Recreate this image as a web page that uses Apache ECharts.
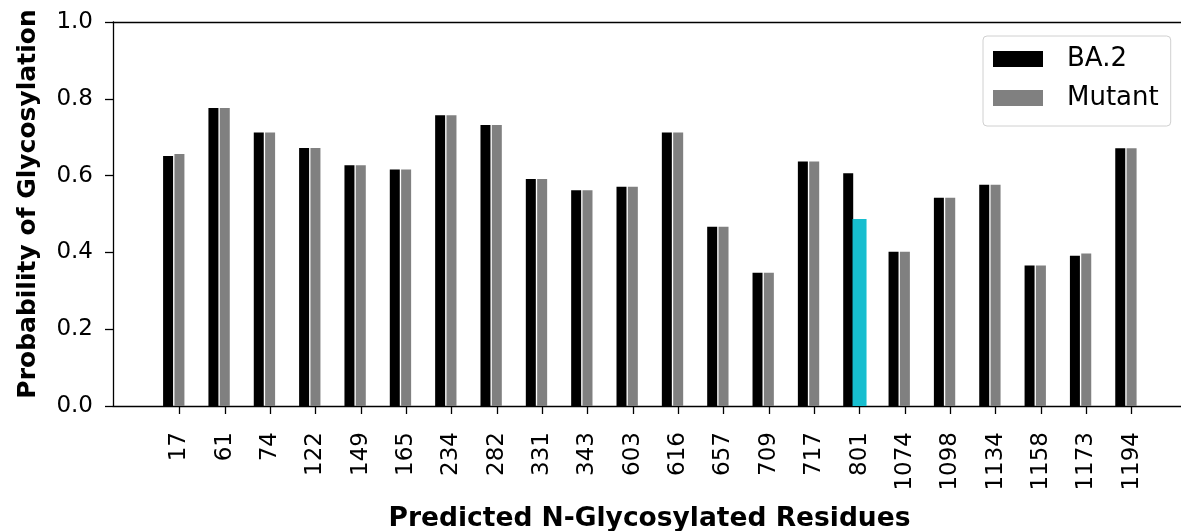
<!DOCTYPE html>
<html>
<head>
<meta charset="utf-8">
<script src="https://cdn.jsdelivr.net/npm/echarts@6/dist/echarts.min.js"></script>
<style>
html,body{margin:0;padding:0;background:#fff;}
#chart{width:1181px;height:531px;}
</style>
</head>
<body>
<div id="chart"></div>
<script>
const residues = ['17','61','74','122','149','165','234','282','331','343','603','616','657','709','717','801','1074','1098','1134','1158','1173','1194'];
const ba2 = [0.651,0.776,0.712,0.672,0.627,0.616,0.757,0.732,0.591,0.562,0.571,0.712,0.467,0.347,0.637,0.606,0.402,0.542,0.576,0.366,0.391,0.671];
const mutant = [0.656,0.776,0.712,0.672,0.627,0.616,0.757,0.732,0.591,0.562,0.571,0.712,0.467,0.347,0.637,0.487,0.402,0.542,0.576,0.366,0.397,0.671];
const highlightResidue = '801';
const yTicks = [0,0.2,0.4,0.6,0.8,1.0];

const FONT = 'DejaVu Sans';
const xMin = -1.465, xMax = 22.2, pairShift = 0.25;
const idx = residues.map((_, i) => i);
const hi = residues.indexOf(highlightResidue);

const chart = echarts.init(document.getElementById('chart'), null, {renderer:'canvas'});
const hiddenX = (shift) => ({type:'value', gridIndex:0, min:xMin+shift, max:xMax+shift, show:false});
chart.setOption({
  animation:false,
  backgroundColor:'#fff',
  textStyle:{fontFamily:FONT},
  grid:{left:113, top:22, width:1073, height:384, containLabel:false, outerBoundsMode:'none'},
  legend:{
    orient:'vertical', left:983, top:36,
    data:['BA.2','Mutant'],
    icon:'rect', itemWidth:50, itemHeight:16, itemGap:13,
    padding:[10,12,15,10],
    borderColor:'#d0d0d0', borderWidth:1, borderRadius:4,
    backgroundColor:'rgba(255,255,255,0.8)',
    textStyle:{fontFamily:FONT, fontSize:26, color:'#000', padding:[0,0,0,19]}
  },
  xAxis:[
    {
      type:'value', min:xMin, max:xMax, position:'bottom',
      name:'Predicted N-Glycosylated Residues', nameLocation:'middle', nameGap:100,
      nameTextStyle:{fontFamily:FONT, fontSize:26.5, fontWeight:'bold', color:'#000'},
      axisLine:{show:true, onZero:false, lineStyle:{color:'#000', width:1.3}},
      axisTick:{show:true, length:8, lineStyle:{color:'#000', width:1.3}, customValues:idx},
      axisLabel:{show:true, rotate:90, margin:26, fontFamily:FONT, fontSize:23, color:'#000',
        customValues:idx, formatter:(v)=>residues[Math.round(v)]},
      splitLine:{show:false}
    },
    hiddenX(pairShift),
    hiddenX(0),
    {type:'value', min:xMin, max:xMax, position:'top',
      axisLine:{show:true, onZero:false, lineStyle:{color:'#000', width:1.3}},
      axisTick:{show:false}, axisLabel:{show:false}, splitLine:{show:false}}
  ],
  yAxis:[{
    type:'value', min:0, max:1, interval:0.2,
    name:'Probability of Glycosylation', nameLocation:'middle', nameGap:72, nameRotate:90,
    nameTextStyle:{fontFamily:FONT, fontSize:25, fontWeight:'bold', color:'#000', padding:[0,0,0,20]},
    axisLine:{show:true, onZero:false, lineStyle:{color:'#000', width:1.3}},
    axisTick:{show:true, length:8, lineStyle:{color:'#000', width:1.3}},
    axisLabel:{margin:20, fontFamily:FONT, fontSize:23, color:'#000', formatter:(v)=>v.toFixed(1)},
    splitLine:{show:false}
  }],
  series:[
    {name:'BA.2', type:'bar', xAxisIndex:1, yAxisIndex:0, barWidth:10,
      itemStyle:{color:'#000000'},
      data: ba2.map((v,i)=>[i,v])},
    {name:'Mutant', type:'bar', xAxisIndex:0, yAxisIndex:0, barWidth:10,
      itemStyle:{color:'#808080'},
      data: mutant.map((v,i)=>[i,v])},
    {name:'Mutant 801', type:'bar', xAxisIndex:2, yAxisIndex:0, barWidth:14,
      itemStyle:{color:'#17becf'},
      data: [[hi, mutant[hi]]]}
  ]
});
</script>
</body>
</html>
